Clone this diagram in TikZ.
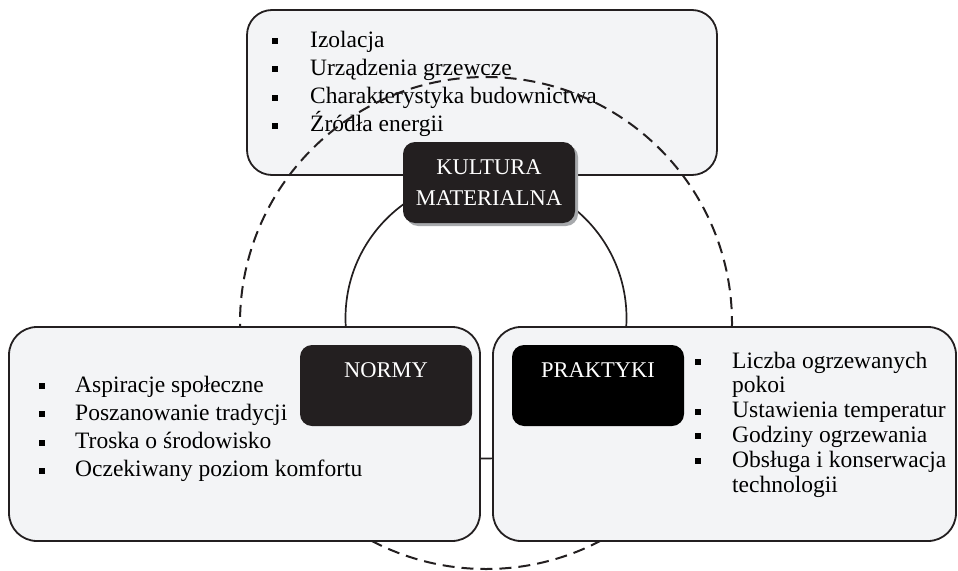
\documentclass[tikz,border=0pt]{standalone}
\usepackage{fontspec}
\setmainfont{Liberation Serif}
\usepackage{xcolor}
\usetikzlibrary{positioning,shadows}

\definecolor{boxgrey}{HTML}{F3F4F6}
\definecolor{ink}{HTML}{231F20}
\definecolor{shade}{HTML}{A7A9AC}

% square bullet hanging left of the item text
\newcommand{\bul}[1][32pt]{\llap{\rule[3pt]{6pt}{6pt}\hspace{#1}}}

\tikzset{
    panel/.style={draw=ink, line width=1.8pt, fill=boxgrey, rounded corners=28pt},
    tag/.style={fill=ink, text=white, rounded corners=12pt, align=center,
        minimum width=172pt, minimum height=81pt, inner sep=0pt,
        font=\fontsize{22.5}{31}\selectfont},
    item/.style={anchor=base west, inner sep=0pt, font=\fontsize{23.5}{28}\selectfont},
    ring/.style={draw=ink, line width=1.7pt},
}

\begin{document}
\begin{tikzpicture}[x=1pt, y=-1pt]
    \useasboundingbox (0,0) rectangle (958,570);

    % centres of the two rings
    \coordinate (core) at (486,318);
    \coordinate (rim)  at (486,323);

    % upper panel
    \node[panel, rounded corners=25pt, minimum width=470pt, minimum height=165pt] (matbox) at (482,92.5) {};
    \foreach \t [count=\i from 0] in {Izolacja, Urządzenia grzewcze, Charakterystyka budownictwa, Źródła energii}
        \node[item] (m\i) at (310,{47+28.3*\i}) {\bul\t};

    % rings behind the lower panels
    \draw[ring, line width=2pt, dash pattern=on 12pt off 7pt] (rim) circle (246);
    \draw[ring] (core) circle (140.5);

    % lower panels
    \node[panel, minimum width=471pt, minimum height=214pt] (normbox) at (244.5,434) {};
    \node[panel, minimum width=463pt, minimum height=214pt] (pracbox) at (724.5,434) {};

    \foreach \t [count=\i from 0] in {Aspiracje społeczne, Poszanowanie tradycji, Troska o środowisko, Oczekiwany poziom komfortu}
        \node[item] (n\i) at (75,{392+28.3*\i}) {\bul[30pt]\t};

    \node[item] (p0)  at (732,368)   {\bul[31pt]Liczba ogrzewanych};
    \node[item] (p0b) at (732,392.8) {pokoi};
    \node[item] (p1)  at (732,417.6) {\bul[31pt]Ustawienia temperatur};
    \node[item] (p2)  at (732,442.4) {\bul[31pt]Godziny ogrzewania};
    \node[item] (p3)  at (732,467.2) {\bul[31pt]Obsługa i konserwacja};
    \node[item] (p3b) at (732,492)   {technologii};

    % headings
    \node[tag, drop shadow={shadow xshift=3pt, shadow yshift=-3pt, fill=shade, opacity=1}]
        (kultura) at (489,182.5) {KULTURA\\MATERIALNA};
    \node[tag] (normy) at (386,385.5) {NORMY\\\phantom{M}};
    \node[tag, fill=black] (praktyki) at (598,385.5) {PRAKTYKI\\\phantom{M}};
\end{tikzpicture}
\end{document}
